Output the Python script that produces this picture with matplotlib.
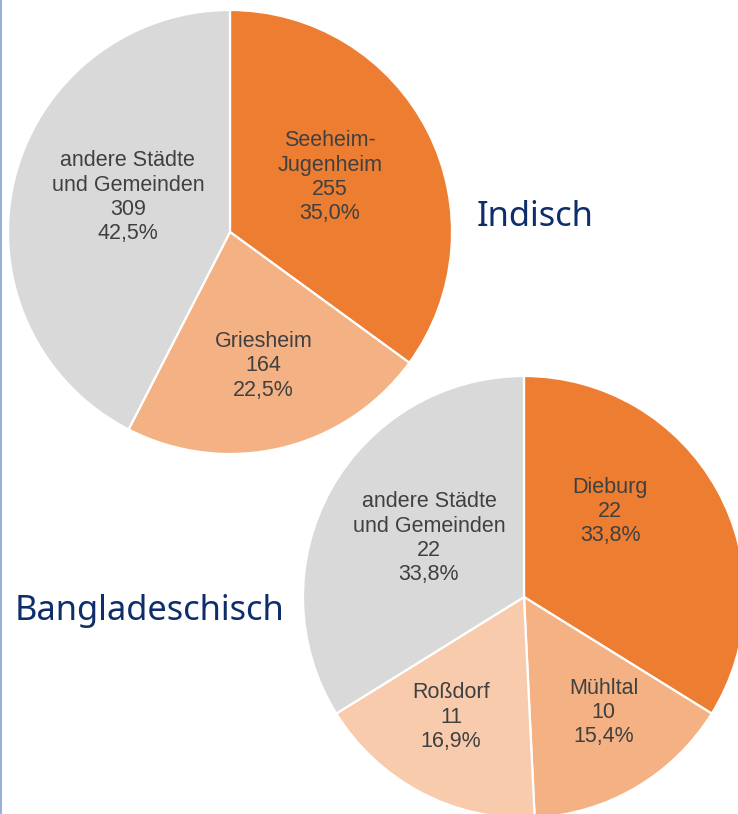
import matplotlib.pyplot as plt
from matplotlib.lines import Line2D

# Indisch
ind_labels = ["Seeheim-\nJugenheim", "Griesheim", "andere Städte\nund Gemeinden"]
ind_values = [255, 164, 309]
ind_pct = ["35,0%", "22,5%", "42,5%"]
ind_colors = ["#ED7D31", "#F4B183", "#D9D9D9"]

# Bangladeschisch
ban_labels = ["Dieburg", "Mühltal", "Roßdorf", "andere Städte\nund Gemeinden"]
ban_values = [22, 10, 11, 22]
ban_pct = ["33,8%", "15,4%", "16,9%", "33,8%"]
ban_colors = ["#ED7D31", "#F4B183", "#F8CBAD", "#D9D9D9"]

W, H = 738, 814
TEXT = "#404040"
NAVY = "#0E2D6B"


def draw_pie(ax, values, labels, pcts, colors, center, radius, offsets):
    wedges, _ = ax.pie(values, colors=colors, startangle=90, counterclock=False,
                       center=center, radius=radius,
                       wedgeprops=dict(edgecolor="white", linewidth=1.6))
    for lab, v, p, (dx, dy) in zip(labels, values, pcts, offsets):
        ax.text(center[0] + dx * radius, center[1] + dy * radius - 3,
                f"{lab}\n{v}\n{p}", ha="center", va="center",
                fontsize=15.5, color=TEXT, family="Liberation Sans",
                linespacing=1.2)


fig = plt.figure(figsize=(W / 100, H / 100), dpi=100)
ax = fig.add_axes([0, 0, 1, 1])

draw_pie(ax, ind_values, ind_labels, ind_pct, ind_colors,
         center=(230, H - 232), radius=222,
         offsets=[(0.45, 0.26), (0.15, -0.59), (-0.46, 0.17)])
draw_pie(ax, ban_values, ban_labels, ban_pct, ban_colors,
         center=(524, H - 597), radius=221,
         offsets=[(0.39, 0.40), (0.36, -0.51), (-0.33, -0.53), (-0.43, 0.28)])

ax.set_xlim(0, W)
ax.set_ylim(0, H)
ax.set_aspect("equal")
ax.axis("off")

ax.text(477, H - 226, "Indisch", fontsize=24.8, color=NAVY, family="Noto Sans",
        ha="left", va="baseline")
ax.text(15, H - 620, "Bangladeschisch", fontsize=24.8, color=NAVY,
        family="Noto Sans", ha="left", va="baseline")

fig.add_artist(Line2D([0.0015, 0.0015], [0, 1], color="#9AB0D8", linewidth=1.5,
                      transform=fig.transFigure))

fig.savefig("out.png", dpi=100)
